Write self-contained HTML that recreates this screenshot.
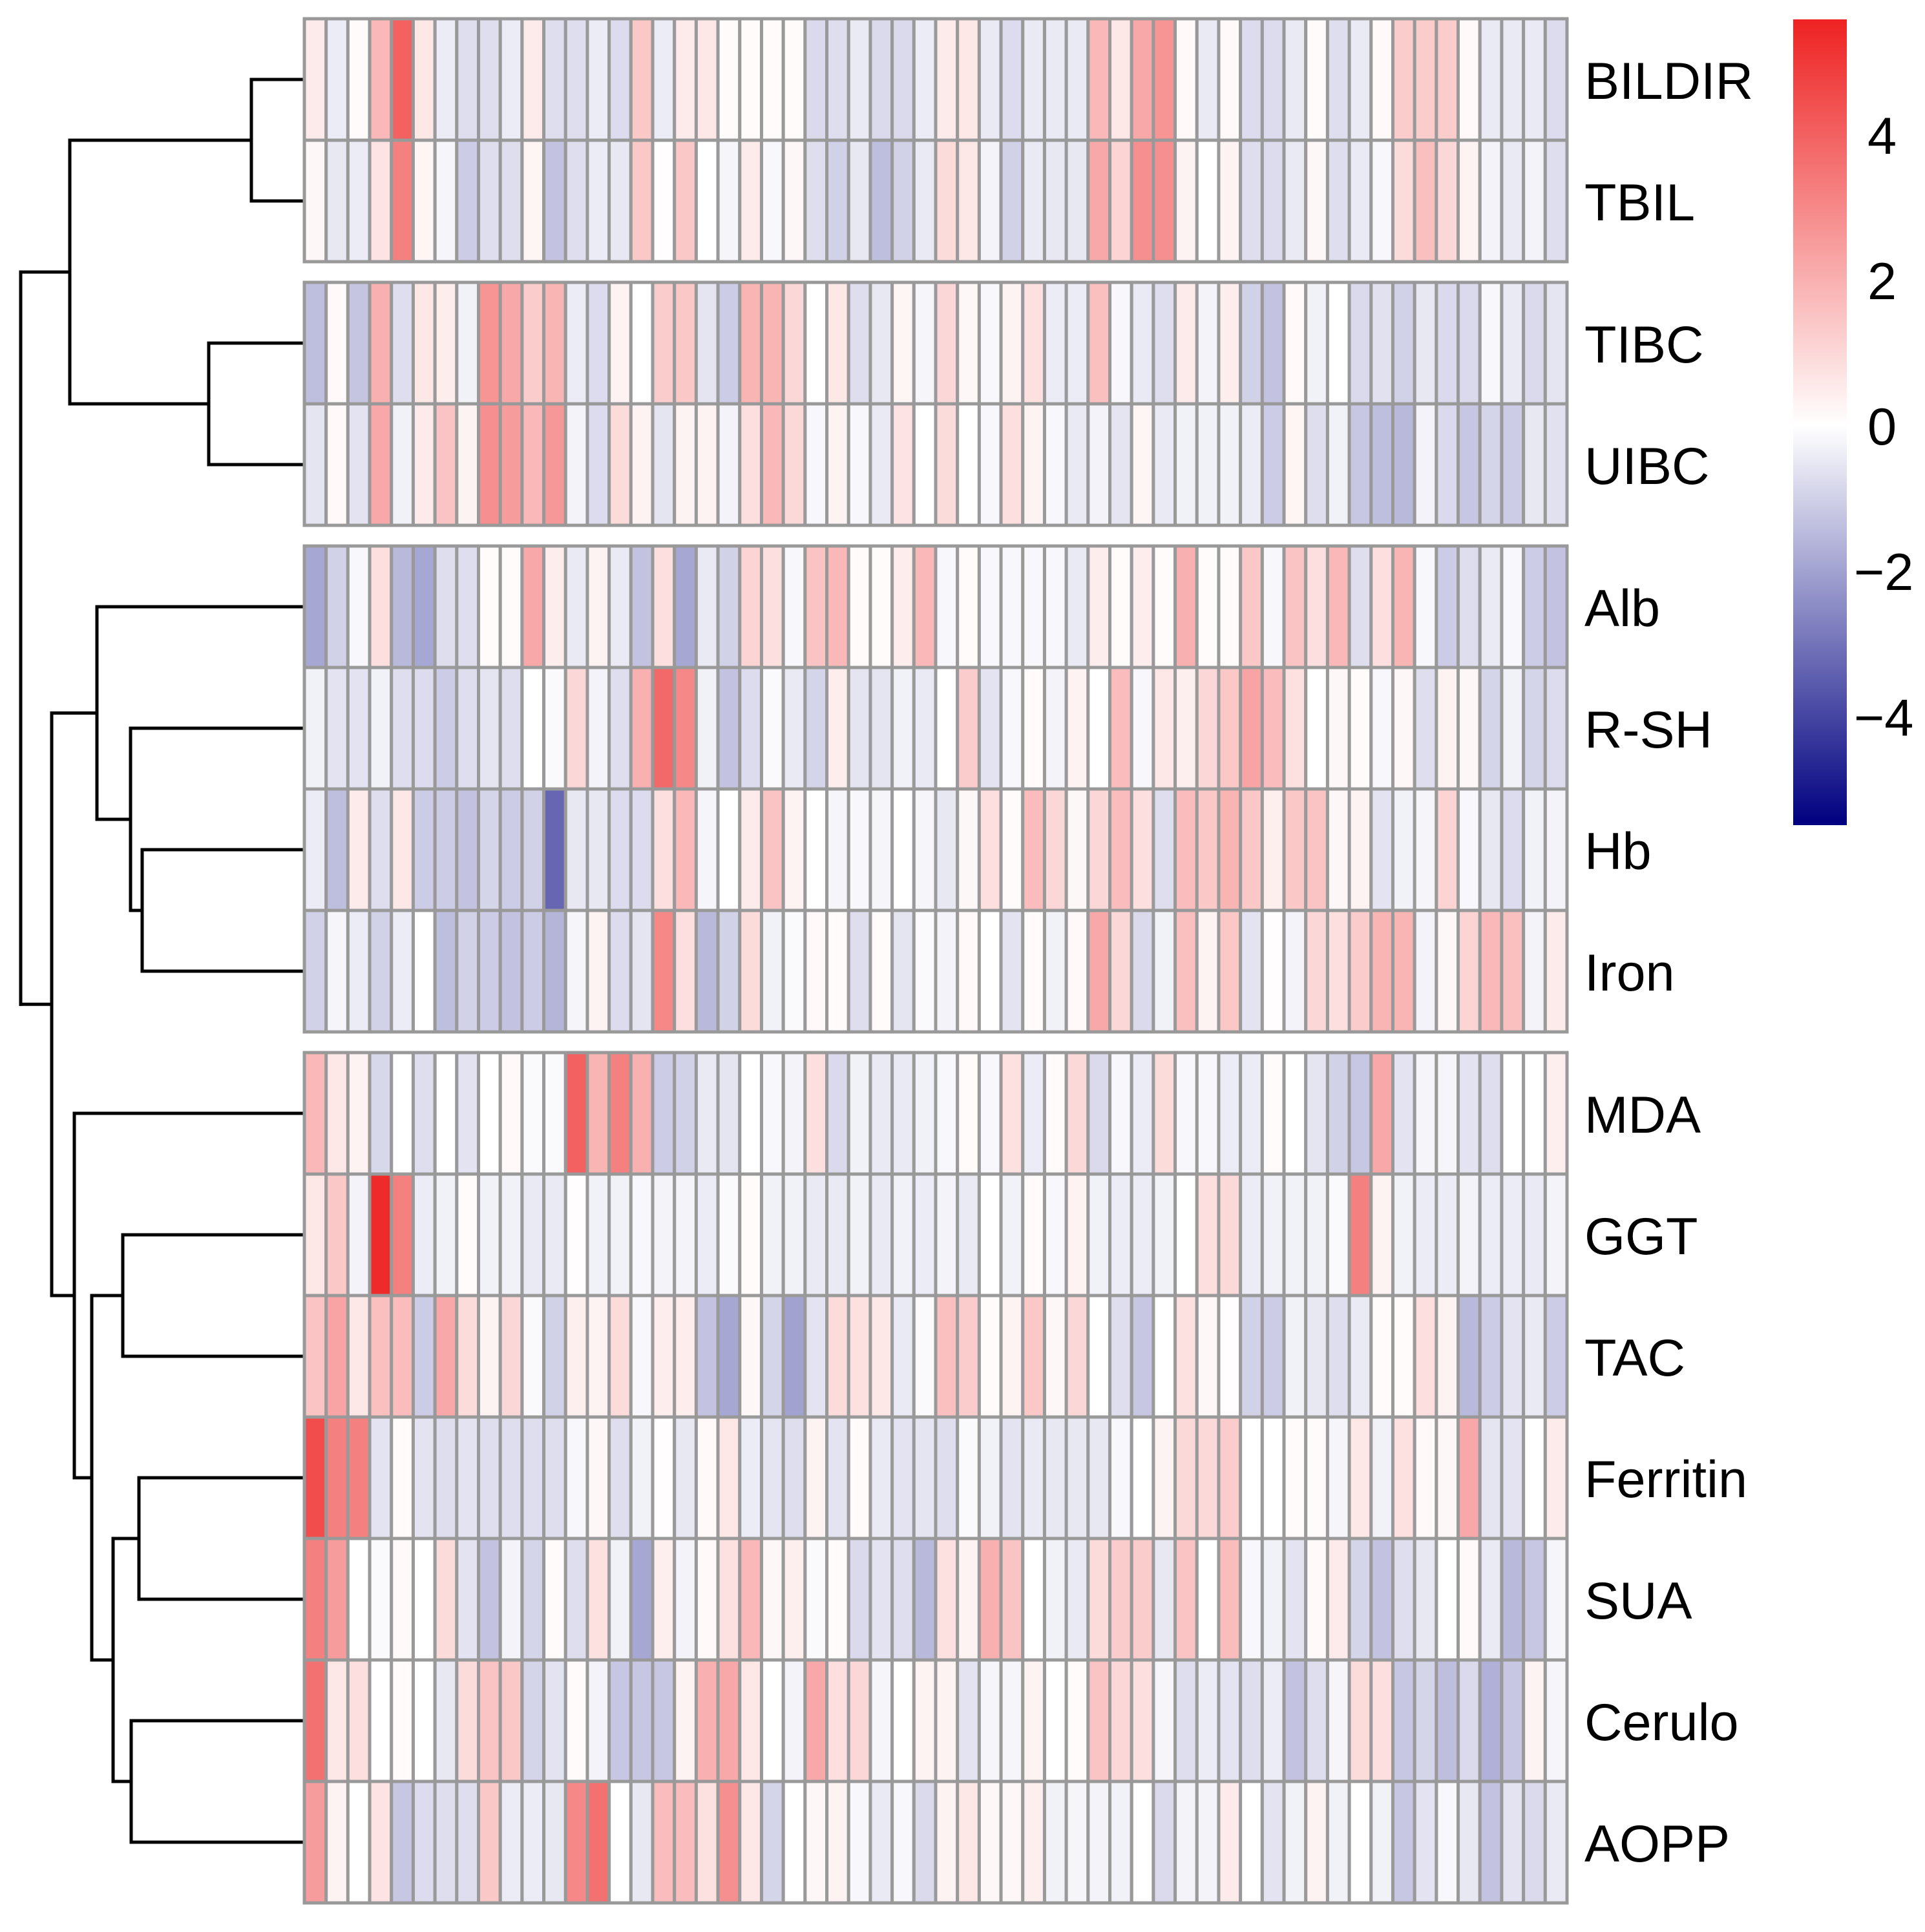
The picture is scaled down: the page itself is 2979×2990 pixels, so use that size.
<!DOCTYPE html>
<html>
<head>
<meta charset="utf-8">
<style>
  html, body { margin: 0; padding: 0; background: #ffffff; }
  #chart { display: block; }
  text { font-family: "Liberation Sans", Arial, sans-serif; }
</style>
</head>
<body>
<svg id="chart" xmlns="http://www.w3.org/2000/svg" width="2979" height="2990" viewBox="0 0 2979 2990">
  <defs>
    <linearGradient id="legendGrad" x1="0" y1="1" x2="0" y2="0">
      <stop offset="0" stop-color="#000080"/>
      <stop offset="0.496" stop-color="#ffffff"/>
      <stop offset="1" stop-color="#EE2222"/>
    </linearGradient>
  </defs>
  <g id="dendro"></g>
  <g id="cells"></g>
  <g id="rowlabels"></g>
  <g id="legend"></g>
</svg>
<script>
// ---------- DATA ----------
const rowLabels = ["BILDIR","TBIL","TIBC","UIBC","Alb","R-SH","Hb","Iron","MDA","GGT","TAC","Ferritin","SUA","Cerulo","AOPP"];
const rowGroups = [0,0,1,1,2,2,2,2,3,3,3,3,3,3,3];

const valBILDIR = [0.5,-0.4,0.1,1.8,4.0,0.6,-0.4,-0.7,-0.7,-0.4,0.5,-0.7,-0.7,-0.4,-0.75,1.4,-0.4,0.5,0.6,0.1,0.1,0.1,0.1,-0.8,-0.7,-0.45,-0.8,-0.8,-0.4,
  0.5,0.6,-0.45,-0.75,-0.45,-0.45,-0.45,1.8,0.6,2.2,2.7,0.15,-0.45,0.15,-0.75,-0.75,-0.45,0.1,-0.7,-0.45,0.15,1.3,1.3,1.3,0.15,-0.45,-0.45,-0.45,-0.75];
const valTBIL = [0.2,-0.5,-0.4,0.7,3.2,0.25,-0.2,-1.1,-0.7,-0.7,0.25,-1.3,-0.7,-0.4,-0.5,1.4,0.05,1.4,0.0,-0.2,0.5,-0.15,0.2,-0.7,-1.0,-0.5,-1.4,-1.0,-0.45,
  0.9,0.6,-0.25,-1.0,-0.45,-0.5,-0.5,2.2,1.1,2.8,2.8,0.3,0.0,0.3,-0.7,-0.75,-0.45,0.2,-0.7,-0.45,-0.15,0.9,1.6,1.0,0.3,-0.25,-0.45,-0.25,-0.7];
const valTIBC = [-1.4,0.15,-1.25,2.0,-0.7,0.6,0.45,-0.3,2.7,2.2,1.3,1.9,-0.4,-0.75,0.3,0.0,1.3,1.4,-0.55,-1.1,1.9,1.9,1.0,0.0,0.6,-0.7,-0.5,0.25,-0.2,
  1.0,0.2,-0.15,0.3,0.75,-0.4,-0.4,1.6,-0.15,-0.45,-0.7,0.5,-0.25,0.45,-1.0,-1.3,0.15,-0.3,0.0,-0.8,-0.65,-1.0,-0.5,-0.8,-0.8,-0.15,-0.45,-0.8,-0.55];
const valUIBC = [-0.55,0.15,-0.6,2.2,-0.3,0.5,1.5,0.3,2.8,2.5,1.8,2.6,-0.25,-0.75,0.9,0.3,-0.55,0.3,0.3,-0.25,0.8,1.8,0.95,-0.15,0.3,-0.15,-0.45,0.7,0.0,
  0.9,0.0,-0.15,0.8,0.3,-0.15,-0.45,-0.25,-0.55,0.25,-0.45,-0.3,-0.3,-0.3,-0.4,-1.1,0.25,-0.7,-0.3,-1.2,-1.4,-1.5,-0.25,-0.8,-1.2,-0.9,-1.1,-0.5,-0.65];
const valAlb = [-1.9,-1.0,-0.15,0.8,-1.5,-1.9,-0.7,-0.7,0.1,0.1,2.2,0.45,-0.45,0.3,-0.45,-1.3,0.8,-1.9,-0.45,-1.0,1.1,0.8,-0.15,1.5,1.8,0.1,0.1,0.45,1.8,
  -0.15,0.1,-0.15,-0.15,-0.15,-0.15,-0.45,0.45,0.1,0.45,0.1,2.0,0.1,0.1,1.4,-0.15,1.5,0.8,1.8,-0.7,0.8,1.9,-0.15,-1.1,-0.7,-0.45,-0.15,-1.1,-1.3];
const valRSH = [-0.3,-0.6,-0.6,-0.3,-0.7,-0.75,-1.1,-0.7,-0.55,-0.7,0.0,-0.1,1.0,-0.25,-0.7,2.0,3.8,3.0,-0.3,-1.3,-0.75,-0.1,-0.45,-0.9,0.45,-0.55,-0.55,-0.3,-0.45,
  0.0,1.3,-0.6,-0.15,0.1,-0.25,0.3,0.0,1.7,-0.15,0.6,0.4,1.0,1.4,2.3,1.7,0.75,0.0,0.2,0.1,-0.15,0.2,-0.7,0.3,0.2,-0.9,-0.3,-0.9,-0.75];
const valHb = [-0.4,-1.4,0.5,-0.7,0.6,-1.1,-1.1,-1.3,-0.9,-1.1,-1.0,-3.3,-0.5,-0.5,-0.75,-0.75,0.8,1.8,-0.2,0.0,0.5,1.5,0.3,0.0,-0.2,-0.15,-0.2,0.0,-0.2,
  -0.5,0.2,0.8,0.1,1.7,1.0,0.2,1.0,1.7,0.8,-0.7,1.7,1.4,1.9,1.4,0.4,1.4,1.5,0.2,0.3,-0.6,-0.3,-0.2,1.1,-0.15,-0.5,-0.75,-0.3,-0.25];
const valIron = [-1.0,-0.2,-0.4,-1.0,-0.4,0.0,-1.4,-1.0,-1.1,-1.3,-1.1,-1.6,-0.2,0.3,-0.75,-0.55,3.0,0.8,-1.5,-1.0,0.9,-0.3,-0.1,0.15,0.1,-0.7,0.1,-0.55,-0.1,
  -0.25,0.15,0.0,-0.6,0.1,-0.3,0.15,2.2,1.0,-0.8,-0.3,1.6,0.3,1.4,-0.6,0.05,-0.25,1.0,0.8,1.3,1.9,1.9,-0.25,0.2,1.1,1.8,1.6,-0.25,0.5];
const valMDA = [1.8,0.6,0.3,-0.85,0.0,-0.7,0.0,-0.6,0.0,0.15,-0.1,-0.1,4.0,1.9,3.2,2.0,-1.1,-1.0,-0.45,-0.55,0.0,-0.15,-0.25,0.8,-0.8,-0.3,-0.45,-0.45,-0.3,
  -0.15,0.1,-0.15,0.75,-0.4,0.1,0.95,-0.8,-0.15,-0.4,0.9,-0.15,-0.15,-0.4,-0.4,0.1,0.0,-0.55,-1.0,-1.2,2.2,-0.6,-0.2,-0.2,-0.6,-0.7,0.0,0.0,0.4];
const valGGT = [0.6,1.4,-0.25,5.4,3.2,-0.4,-0.3,0.1,-0.3,-0.3,-0.45,-0.45,0.05,-0.3,-0.3,-0.15,-0.25,-0.25,-0.4,-0.1,0.1,-0.3,-0.3,-0.45,-0.45,-0.3,-0.45,-0.3,-0.4,
  -0.25,-0.45,0.0,-0.3,0.1,-0.15,0.3,-0.3,-0.4,-0.4,-0.3,0.0,0.8,0.95,-0.4,-0.3,-0.3,-0.3,-0.1,3.2,0.3,-0.3,-0.4,-0.4,-0.25,-0.4,-0.4,-0.45,-0.25];
const valTAC = [1.5,2.3,0.6,1.6,1.7,-1.1,2.2,0.9,0.3,1.0,-0.1,-1.0,0.4,0.3,0.9,-0.15,0.45,0.45,-1.3,-1.9,0.2,-0.9,-2.0,-0.6,0.9,0.75,0.6,-0.45,-0.1,
  1.6,1.3,0.1,0.3,1.4,0.2,1.0,0.0,-0.7,-1.2,0.0,0.75,0.2,0.05,-1.0,-1.1,-0.3,-0.5,-0.7,-0.45,0.1,0.1,0.8,0.3,-1.5,-1.1,-0.6,-0.45,-1.1];
const valFerritin = [4.5,3.2,3.2,-0.6,0.1,-0.6,-0.7,-0.6,-0.7,-0.7,-0.7,-0.7,-0.15,0.2,-0.7,-0.3,0.05,-0.5,0.15,0.6,-0.4,-0.55,-0.7,0.3,-0.6,0.1,-0.45,-0.6,-0.55,
  -0.7,-0.1,-0.3,-0.6,-0.45,-0.5,-0.5,-0.5,-0.15,0.0,0.3,0.95,0.95,1.3,0.0,0.0,0.1,0.1,-0.2,0.6,-0.3,0.75,0.15,0.2,2.2,-0.55,-0.6,0.0,0.5];
const valSUA = [3.2,2.5,0.0,-0.1,0.15,0.0,0.9,-0.6,-1.3,-0.25,-0.9,0.1,-0.7,0.75,-0.3,-1.9,0.4,-0.25,0.15,0.75,1.8,0.2,0.4,-0.1,0.1,-0.8,-0.6,-0.7,-1.5,
  0.75,0.3,2.0,1.5,0.0,-0.3,-0.45,0.9,1.3,1.3,-0.5,1.5,0.0,1.7,-0.15,-0.3,-0.6,0.15,0.5,-0.9,-1.3,-0.7,-0.5,0.0,0.15,-0.45,-1.5,-1.2,-0.2];
const valCerulo = [3.6,0.6,0.8,0.0,0.1,0.0,-0.5,0.9,1.5,1.4,-0.9,-0.6,0.1,-0.25,-1.2,-1.2,-1.2,0.3,2.0,2.2,0.6,0.0,-0.25,2.2,0.8,1.0,-0.2,0.0,0.3,
  0.3,-0.6,-0.2,-0.2,0.3,0.0,0.1,1.5,1.0,0.8,-0.2,-0.7,-0.4,-0.6,-0.7,-0.4,-1.3,-0.7,-0.2,0.9,0.8,-1.2,-0.9,-1.4,-0.8,-1.7,-1.2,0.3,-0.2];
const valAOPP = [2.5,0.3,0.0,0.7,-1.2,-0.75,-0.7,-0.7,1.4,-0.4,-0.4,-0.5,3.0,3.6,0.0,-0.5,1.7,1.7,0.75,2.8,0.6,-0.9,0.0,0.2,0.3,-0.15,-0.45,-0.15,-0.8,
  0.3,0.6,0.2,0.2,0.4,-0.3,-0.2,-0.25,-0.3,0.0,-0.8,-0.25,-0.25,0.5,0.0,-0.6,-0.3,0.3,-0.3,0.0,-0.3,-1.2,-0.6,-0.15,-0.5,-1.3,-0.6,-0.8,-0.45];

const rowValues = [valBILDIR,valTBIL,valTIBC,valUIBC,valAlb,valRSH,valHb,valIron,valMDA,valGGT,valTAC,valFerritin,valSUA,valCerulo,valAOPP];

const legendTicks = [4, 2, 0, -2, -4];
const legendTickLabels = ["4", "2", "0", "\u22122", "\u22124"];
const colorMin = -5.49;
const colorMax = 5.59;

// dendrogram merge heights (tree structure)
const treeNodes = [
  {id:"A", h:389, kids:[0,1]},
  {id:"B", h:323, kids:[2,3]},
  {id:"C", h:108, kids:["A","B"]},
  {id:"F", h:220, kids:[6,7]},
  {id:"E", h:202, kids:[5,"F"]},
  {id:"D", h:150, kids:[4,"E"]},
  {id:"G", h:190, kids:[9,10]},
  {id:"I", h:215, kids:[11,12]},
  {id:"J", h:203, kids:[13,14]},
  {id:"H", h:175, kids:["I","J"]},
  {id:"M", h:142, kids:["G","H"]},
  {id:"L", h:115, kids:[8,"M"]},
  {id:"K", h:80,  kids:["D","L"]},
  {id:"R", h:32,  kids:["C","K"]}
];

// ---------- LAYOUT ----------
const NS = "http://www.w3.org/2000/svg";
const hmLeft = 471, hmRight = 2425, hmTop = 29;
const rowH = 188, groupGap = 32;
const nCols = valBILDIR.length;
const colW = (hmRight - hmLeft) / nCols;

function xCol(j) { return hmLeft + j * colW; }
function yRow(i) { return hmTop + i * rowH + rowGroups[i] * groupGap; }
function yCenter(i) { return yRow(i) + rowH / 2; }

function colorFor(v) {
  let r, g, b;
  if (v >= 0) {
    const t = Math.min(v / colorMax, 1);
    r = 255 + t * (238 - 255); g = 255 + t * (34 - 255); b = 255 + t * (34 - 255);
  } else {
    const t = Math.min(-v / -colorMin, 1);
    r = 255 * (1 - t); g = 255 * (1 - t); b = 255 + t * (128 - 255);
  }
  return "rgb(" + Math.round(r) + "," + Math.round(g) + "," + Math.round(b) + ")";
}

// ---------- CELLS ----------
const cellsG = document.getElementById("cells");
for (let i = 0; i < rowValues.length; i++) {
  const vals = rowValues[i];
  for (let j = 0; j < vals.length; j++) {
    const r = document.createElementNS(NS, "rect");
    r.setAttribute("x", xCol(j).toFixed(2));
    r.setAttribute("y", yRow(i));
    r.setAttribute("width", colW.toFixed(2));
    r.setAttribute("height", rowH);
    r.setAttribute("fill", colorFor(vals[j]));
    r.setAttribute("stroke", "#999999");
    r.setAttribute("stroke-width", "5");
    
    
    cellsG.appendChild(r);
  }
}

// ---------- ROW LABELS ----------
const labG = document.getElementById("rowlabels");
for (let i = 0; i < rowLabels.length; i++) {
  const t = document.createElementNS(NS, "text");
  t.setAttribute("x", 2452);
  t.setAttribute("y", yCenter(i) + 30);
  t.setAttribute("font-size", "81");
  t.setAttribute("fill", "#000");
  t.textContent = rowLabels[i];
  
  
  labG.appendChild(t);
}

// ---------- DENDROGRAM ----------
const dG = document.getElementById("dendro");
const nodeMap = {};
treeNodes.forEach(n => nodeMap[n.id] = n);
function childY(k) { return typeof k === "number" ? yCenter(k) : nodeY(nodeMap[k]); }
function childX(k) { return typeof k === "number" ? hmLeft : nodeMap[k].h; }
function nodeY(n) { return (childY(n.kids[0]) + childY(n.kids[1])) / 2; }
function line(x1, y1, x2, y2, name) {
  const l = document.createElementNS(NS, "line");
  l.setAttribute("x1", x1); l.setAttribute("y1", y1);
  l.setAttribute("x2", x2); l.setAttribute("y2", y2);
  l.setAttribute("stroke", "#000"); l.setAttribute("stroke-width", "5");
  l.setAttribute("stroke-linecap", "square");
  
  
  dG.appendChild(l);
}
treeNodes.forEach(n => {
  const y0 = childY(n.kids[0]), y1 = childY(n.kids[1]);
  line(n.h, y0, n.h, y1, "dendrogram-branch");
  n.kids.forEach(k => line(n.h, childY(k), childX(k), childY(k), "dendrogram-branch"));
});

// ---------- LEGEND ----------
const lg = document.getElementById("legend");
const legTop = 30, legBottom = 1277, legX = 2775, legW = 83;
function yLegend(v) { return legTop + (colorMax - v) / (colorMax - colorMin) * (legBottom - legTop); }
const bar = document.createElementNS(NS, "rect");
bar.setAttribute("x", legX); bar.setAttribute("y", legTop);
bar.setAttribute("width", legW); bar.setAttribute("height", legBottom - legTop);
bar.setAttribute("fill", "url(#legendGrad)");


lg.appendChild(bar);
legendTicks.forEach((v, idx) => {
  const t = document.createElementNS(NS, "text");
  t.setAttribute("x", v < 0 ? 2869 : 2890);
  t.setAttribute("y", yLegend(v) + 29);
  t.setAttribute("font-size", "81");
  t.setAttribute("fill", "#000");
  t.textContent = legendTickLabels[idx];
  
  
  lg.appendChild(t);
});
</script>
</body>
</html>
